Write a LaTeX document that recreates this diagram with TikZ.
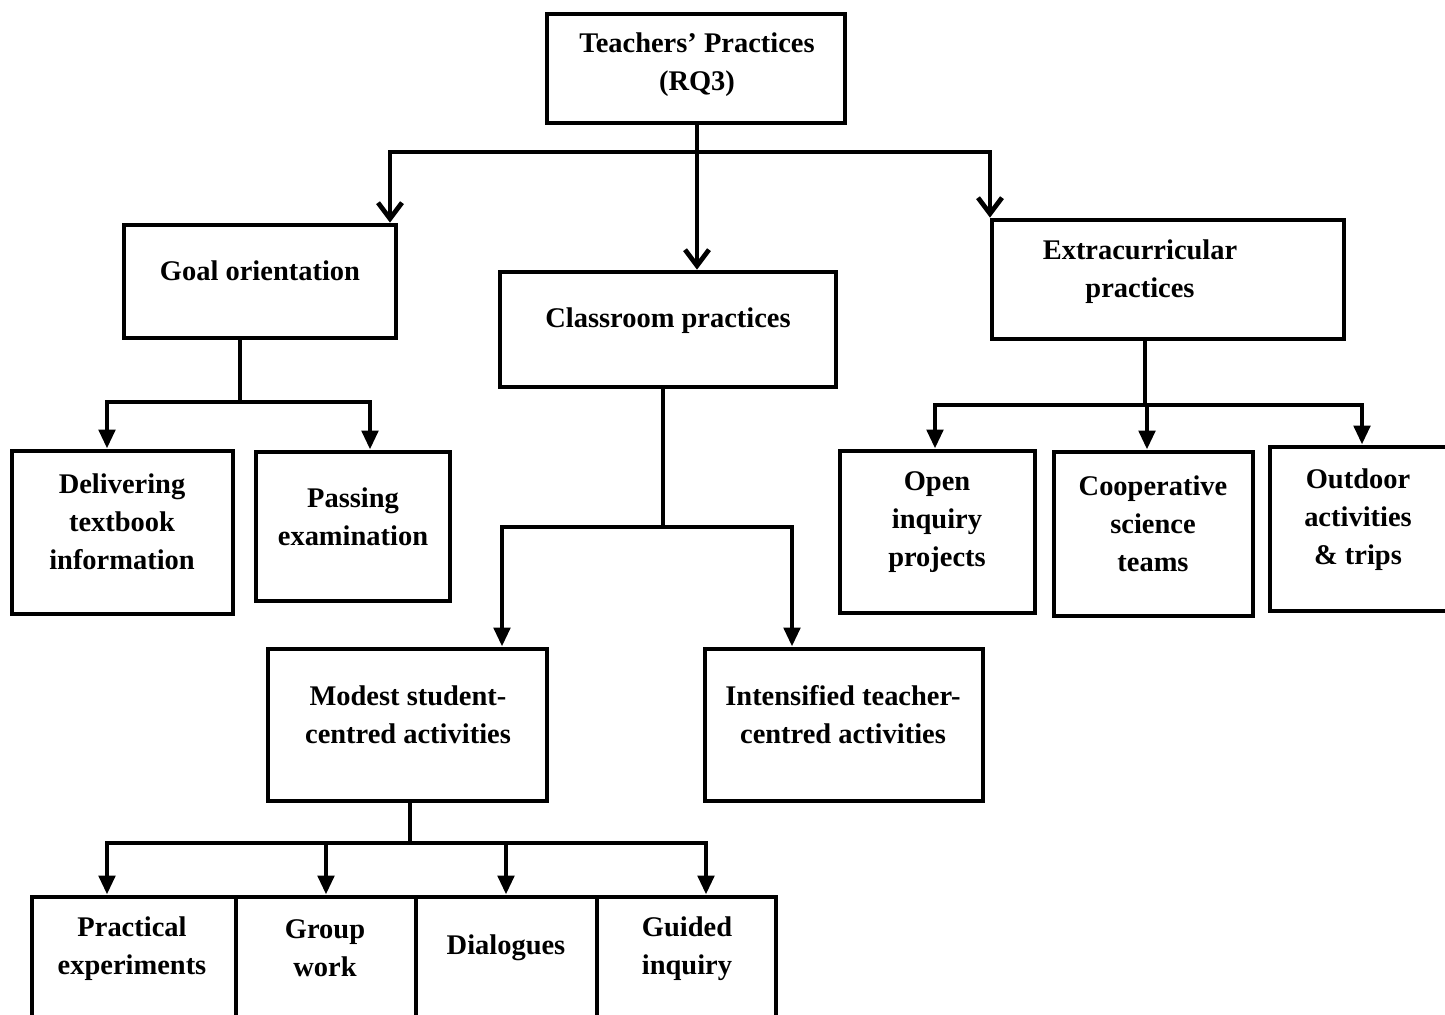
\documentclass[tikz,border=0pt]{standalone}
\usepackage{fontspec}
\setmainfont{Liberation Serif}
\usetikzlibrary{arrows.meta,fit}
\begin{document}
\begin{tikzpicture}[x=0.02cm,y=-0.02cm,
  box/.style={draw, line width=2.7pt, inner sep=0pt, line join=miter},
  txt/.style={align=center, font=\fontsize{16.2}{21.6}\selectfont\bfseries, inner sep=0pt, yshift=-3.5*0.02cm},
  wire/.style={line width=2.7pt},
  barb/.style={wire, -{Straight Barb[length=0.32cm,width=0.48cm,line width=2.7pt]}},
  tri/.style={wire, -{Triangle[length=0.38cm,width=0.32cm]}}]
\useasboundingbox (0,0) rectangle (1445,1015);
\clip (0,0) rectangle (1445,1015);

% boxes
\node[box, fit={(547,14) (845,123)}] (top) {};
\node[box, fit={(124,225) (396,338)}] (goal) {};
\node[box, fit={(500,272) (836,387)}] (class) {};
\node[box, fit={(992,220) (1344,339)}] (extra) {};
\node[box, fit={(12,451) (233,614)}] (deliv) {};
\node[box, fit={(256,452) (450,601)}] (pass) {};
\node[box, fit={(840,451) (1035,613)}] (open) {};
\node[box, fit={(1054,452) (1253,616)}] (coop) {};
\node[box, fit={(1270,447) (1470,611)}] (outd) {};
\node[box, fit={(268,649) (547,801)}] (modest) {};
\node[box, fit={(705,649) (983,801)}] (inten) {};
\node[box, fit={(32,897) (236,1040)}] (pract) {};
\node[box, fit={(236,897) (416,1040)}] (group) {};
\node[box, fit={(416,897) (597,1040)}] (dial) {};
\node[box, fit={(597,897) (776,1040)}] (guided) {};

% labels
\node[txt] (topT) at (697,61) {Teachers’ Practices\\(RQ3)};
\node[txt] (goalT) at (260,267) {Goal orientation};
\node[txt] (classT) at (668,317) {Classroom practices};
\node[txt] (extraT) at (1140,268) {Extracurricular\\practices};
\node[txt] (delivT) at (122,518) {Delivering\\textbook\\information};
\node[txt] (passT) at (353,513) {Passing\\examination};
\node[txt] (openT) at (937,519) {Open\\inquiry\\projects};
\node[txt] (coopT) at (1153,520) {Cooperative\\science\\teams};
\node[txt] (outdT) at (1358,516) {Outdoor\\activities\\\& trips};
\node[txt] (modestT) at (408,711) {Modest student-\\centred activities};
\node[txt] (intenT) at (843,711) {Intensified teacher-\\centred activities};
\node[txt] (practT) at (132,945) {Practical\\experiments};
\node[txt] (groupT) at (325,945) {Group\\work};
\node[txt] (dialT) at (506,944) {Dialogues};
\node[txt] (guidedT) at (687,945) {Guided\\inquiry};

% branch points
\coordinate (t0) at (697,152);
\coordinate (tL) at (390,152);
\coordinate (tR) at (990,152);
\coordinate (g0) at (240,402);
\coordinate (gL) at (107,402);
\coordinate (gR) at (370,402);
\coordinate (c0) at (663,527);
\coordinate (cL) at (502,527);
\coordinate (cR) at (792,527);
\coordinate (e0) at (1145,405);
\coordinate (eL) at (935,405);
\coordinate (eM) at (1147,405);
\coordinate (eR) at (1362,405);
\coordinate (m0) at (410,843);
\coordinate (m1) at (107,843);
\coordinate (m2) at (326,843);
\coordinate (m3) at (506,843);
\coordinate (m4) at (706,843);

% top level
\draw[barb] (t0 |- top.south) -- (t0 |- class.north);
\draw[barb] (t0) -- (tL) -- (tL |- goal.north);
\draw[barb] (t0) -- (tR) -- (tR |- extra.north);

% goal orientation
\draw[wire] (g0 |- goal.south) -- (g0);
\draw[tri] (g0) -- (gL) -- (gL |- deliv.north);
\draw[tri] (g0) -- (gR) -- (gR |- pass.north);

% classroom practices
\draw[wire] (c0 |- class.south) -- (c0);
\draw[tri] (c0) -- (cL) -- (cL |- modest.north);
\draw[tri] (c0) -- (cR) -- (cR |- inten.north);

% extracurricular practices
\draw[wire] (e0 |- extra.south) -- (e0);
\draw[tri] (e0) -- (eL) -- (eL |- open.north);
\draw[tri] (eM) -- (eM |- coop.north);
\draw[tri] (e0) -- (eR) -- (eR |- outd.north);

% student-centred activities
\draw[wire] (m0 |- modest.south) -- (m0);
\draw[tri] (m0) -- (m1) -- (m1 |- pract.north);
\draw[tri] (m2) -- (m2 |- group.north);
\draw[tri] (m3) -- (m3 |- dial.north);
\draw[tri] (m0) -- (m4) -- (m4 |- guided.north);
\end{tikzpicture}
\end{document}
